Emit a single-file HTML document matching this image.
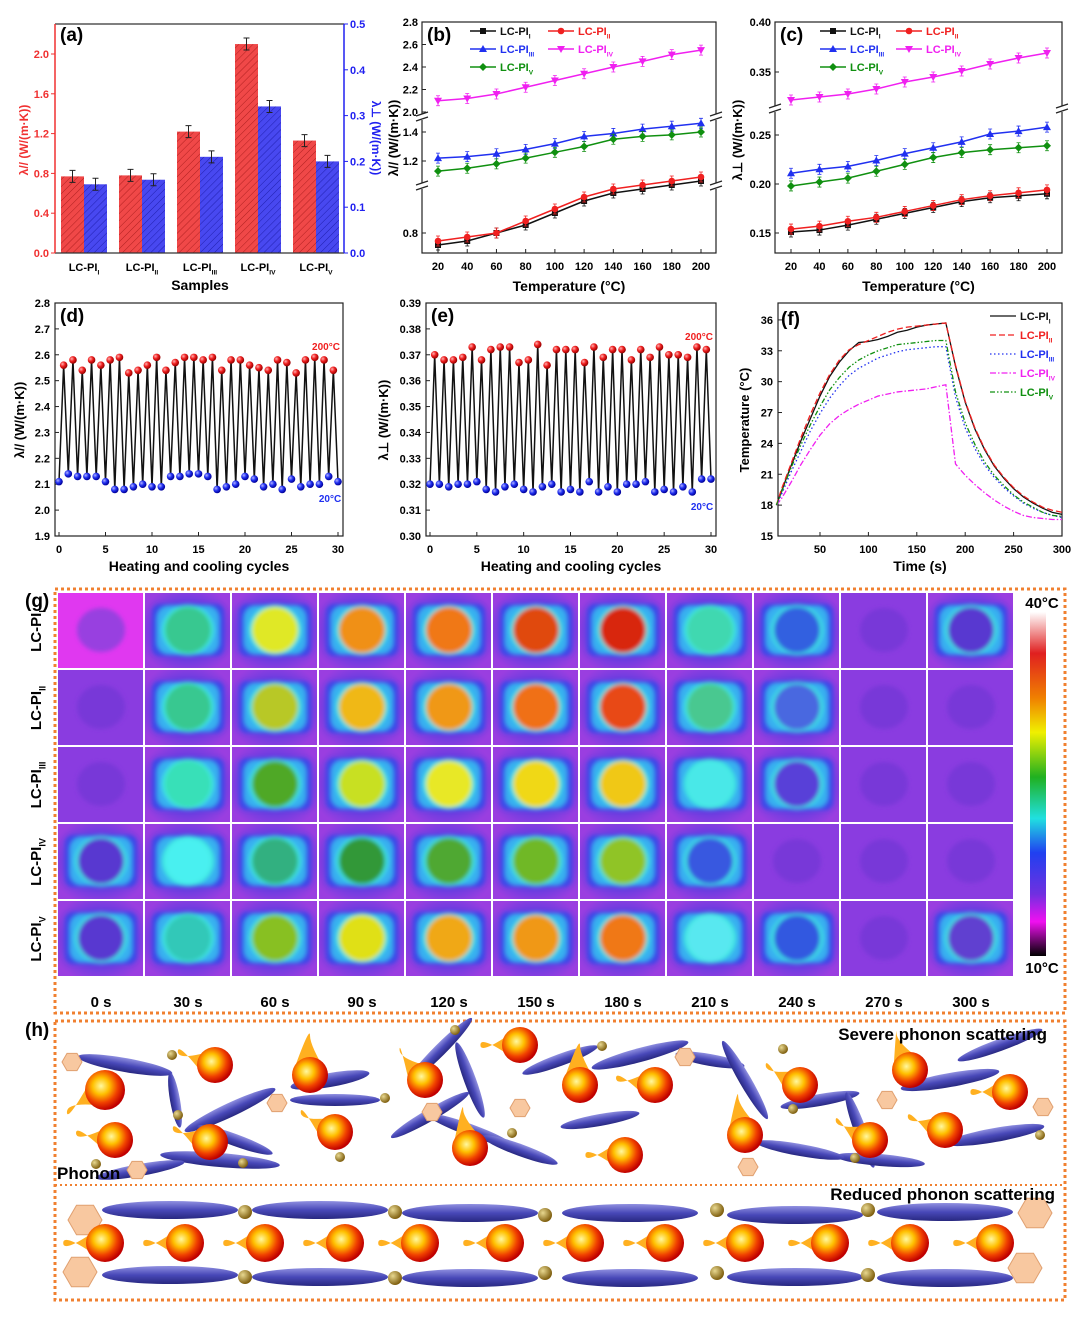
<!DOCTYPE html>
<html><head><meta charset="utf-8">
<style>
html,body{margin:0;padding:0;background:#fff;}
svg{display:block;font-family:"Liberation Sans",Arial,sans-serif;font-weight:bold;}
</style></head>
<body>
<svg id="fig" width="1080" height="1323" viewBox="0 0 1080 1323" xmlns="http://www.w3.org/2000/svg">
<defs>
<filter id="soft" x="-20%" y="-20%" width="140%" height="140%"><feGaussianBlur stdDeviation="2.2"/></filter>
<clipPath id="dummy"><rect width="1" height="1"/></clipPath>
<pattern id="hatchR" patternUnits="userSpaceOnUse" width="5" height="5" patternTransform="rotate(45)"><rect width="5" height="5" fill="#f04848"/><line x1="0" y1="0" x2="0" y2="5" stroke="#b02020" stroke-width="1"/></pattern>
<pattern id="hatchB" patternUnits="userSpaceOnUse" width="5" height="5" patternTransform="rotate(45)"><rect width="5" height="5" fill="#4848f0"/><line x1="0" y1="0" x2="0" y2="5" stroke="#2020b0" stroke-width="1"/></pattern>
<radialGradient id="ballR" cx="35%" cy="35%" r="65%"><stop offset="0" stop-color="#ffb0b0"/><stop offset="0.5" stop-color="#f02020"/><stop offset="1" stop-color="#900"/></radialGradient>
<radialGradient id="ballB" cx="35%" cy="35%" r="65%"><stop offset="0" stop-color="#b0b0ff"/><stop offset="0.5" stop-color="#2030f0"/><stop offset="1" stop-color="#009"/></radialGradient>
<radialGradient id="fire" cx="40%" cy="40%" r="60%"><stop offset="0" stop-color="#fff8a0"/><stop offset="0.35" stop-color="#ffc000"/><stop offset="0.7" stop-color="#f04000"/><stop offset="1" stop-color="#c00000"/></radialGradient>
<radialGradient id="gold" cx="35%" cy="35%" r="65%"><stop offset="0" stop-color="#e8d890"/><stop offset="1" stop-color="#806010"/></radialGradient>
<radialGradient id="cellbg" cx="50%" cy="50%" r="60%"><stop offset="0.5" stop-color="#5a3ce0"/><stop offset="1" stop-color="#9a3ee0"/></radialGradient>
<linearGradient id="ell" x1="0" y1="0" x2="0" y2="1"><stop offset="0" stop-color="#9090e0"/><stop offset="0.5" stop-color="#4848b8"/><stop offset="1" stop-color="#282880"/></linearGradient>
<linearGradient id="cbar" x1="0" y1="0" x2="0" y2="1">
<stop offset="0" stop-color="#ffffff"/><stop offset="0.12" stop-color="#e02020"/><stop offset="0.25" stop-color="#f08000"/><stop offset="0.35" stop-color="#f0f000"/><stop offset="0.48" stop-color="#20b020"/><stop offset="0.6" stop-color="#20e0e0"/><stop offset="0.7" stop-color="#2040f0"/><stop offset="0.82" stop-color="#7030e0"/><stop offset="0.9" stop-color="#f010f0"/><stop offset="1" stop-color="#000"/></linearGradient>
</defs>
</svg>
<script>
// ---------- data ----------
const barCats=['I','II','III','IV','V'];
const barPar=[0.77,0.78,1.22,2.10,1.13];
const barPerp=[0.15,0.16,0.21,0.32,0.20];
const leftTicks=[0.0,0.4,0.8,1.2,1.6,2.0];
const rightTicks=[0.0,0.1,0.2,0.3,0.4,0.5];

const temps=[20,40,60,80,100,120,140,160,180,200];
const bI=[0.77,0.78,0.80,0.82,0.85,0.88,0.90,0.91,0.92,0.93];
const bII=[0.78,0.79,0.80,0.83,0.86,0.89,0.91,0.92,0.93,0.94];
const bIII=[1.22,1.23,1.25,1.28,1.32,1.37,1.39,1.42,1.44,1.46];
const bIV=[2.10,2.12,2.16,2.22,2.28,2.34,2.40,2.45,2.51,2.55];
const bV=[1.13,1.15,1.18,1.22,1.26,1.30,1.35,1.37,1.38,1.40];
const bTicks=[0.8,1.2,1.4,2.0,2.2,2.4,2.6,2.8];

const cI=[0.151,0.153,0.158,0.164,0.170,0.176,0.182,0.186,0.188,0.190];
const cII=[0.154,0.157,0.162,0.166,0.172,0.178,0.184,0.188,0.191,0.194];
const cIII=[0.211,0.215,0.218,0.224,0.231,0.237,0.243,0.251,0.254,0.258];
const cIV=[0.322,0.325,0.328,0.333,0.340,0.345,0.351,0.358,0.364,0.369];
const cV=[0.198,0.202,0.206,0.213,0.220,0.227,0.232,0.235,0.237,0.239];
const cTicks=[0.15,0.20,0.25,0.35,0.40];

const dHigh=[2.56,2.58,2.54,2.58,2.56,2.58,2.59,2.53,2.54,2.56,2.59,2.54,2.57,2.59,2.59,2.58,2.59,2.54,2.58,2.58,2.56,2.55,2.54,2.58,2.57,2.53,2.58,2.59,2.58,2.54];
const dLow=[2.11,2.14,2.13,2.13,2.13,2.11,2.08,2.08,2.09,2.10,2.09,2.09,2.13,2.13,2.14,2.14,2.13,2.08,2.09,2.10,2.13,2.12,2.09,2.10,2.08,2.12,2.09,2.10,2.10,2.13,2.11];
const dTicks=[1.9,2.0,2.1,2.2,2.3,2.4,2.5,2.6,2.7,2.8];
const eHigh=[0.370,0.368,0.368,0.369,0.373,0.368,0.372,0.373,0.373,0.367,0.368,0.374,0.366,0.372,0.372,0.372,0.367,0.373,0.369,0.372,0.372,0.368,0.372,0.369,0.373,0.370,0.370,0.369,0.373,0.372];
const eLow=[0.320,0.320,0.319,0.320,0.320,0.321,0.318,0.317,0.319,0.320,0.318,0.317,0.319,0.320,0.317,0.318,0.317,0.321,0.317,0.319,0.317,0.320,0.320,0.321,0.317,0.318,0.317,0.319,0.317,0.322,0.322];
const eTicks=[0.30,0.31,0.32,0.33,0.34,0.35,0.36,0.37,0.38,0.39];
const cycTicks=[0,5,10,15,20,25,30];

const fTime=[5,10,20,30,40,50,60,70,80,90,100,110,120,130,140,150,160,170,180,190,200,210,220,230,240,250,260,270,280,290,300];
const fI=[18,19.3,21.8,24.2,26.4,28.6,30.5,31.9,33.0,33.8,33.9,34.1,34.4,34.8,35.0,35.3,35.5,35.6,35.7,31.5,28.0,25.4,23.4,21.8,20.6,19.6,18.8,18.2,17.7,17.3,17.1];
const fII=[18,19.5,22.0,24.5,26.8,28.9,30.7,32.1,33.1,33.6,34.0,34.4,34.8,35.1,35.3,35.4,35.5,35.6,35.7,31.6,28.1,25.5,23.5,21.9,20.7,19.7,18.9,18.3,17.8,17.5,17.3];
const fIII=[18,19.0,21.2,23.2,25.2,26.9,28.4,29.6,30.6,31.3,31.8,32.3,32.6,32.9,33.1,33.2,33.3,33.4,33.4,28.5,25.5,23.5,21.9,20.7,19.7,18.9,18.2,17.7,17.3,17.0,16.8];
const fIV=[18,18.6,20.2,21.9,23.4,24.8,25.9,26.7,27.3,27.8,28.2,28.6,28.8,29.0,29.1,29.2,29.3,29.5,29.7,22.0,20.9,20.0,19.2,18.5,17.9,17.4,17.0,16.8,16.7,16.6,16.6];
const fV=[18,19.2,21.6,23.8,25.8,27.6,29.2,30.4,31.4,32.1,32.6,33.0,33.3,33.6,33.7,33.8,33.9,34.0,34.0,29.0,26.0,23.9,22.2,20.9,19.9,19.0,18.3,17.8,17.3,17.0,16.9];
const fYTicks=[15,18,21,24,27,30,33,36];
const fXTicks=[50,100,150,200,250,300];

const gRows=['I','II','III','IV','V'];
const gTimes=['0 s','30 s','60 s','90 s','120 s','150 s','180 s','210 s','240 s','270 s','300 s'];
const gCenter=[
['-','#38c890','#e0e828','#f09018','#f07818','#e04810','#d82810','#40d8b0','#3060e0','-','#5838d0'],
['-','#38c890','#b8c828','#f0b818','#f09818','#f07018','#e84818','#48c890','#4868e0','-','-'],
['-','#38e0b8','#50a828','#c8e020','#e8e828','#f0d818','#f0c818','#48e8e8','#5840d8','-','-'],
['#5838d0','#48f0f0','#30b080','#309838','#50a830','#70b828','#90c428','#3858e0','-','-','-'],
['#5838d0','#30c8b8','#88c020','#e0e018','#f0a818','#f09818','#f07818','#58e8f0','#3058e0','-','#6040d0']];

// ---------- helpers ----------
const NS='http://www.w3.org/2000/svg';
const svg=document.getElementById('fig');
function mk(tag,attrs,parent){const e=document.createElementNS(NS,tag);for(const k in attrs)e.setAttribute(k,attrs[k]);(parent||svg).appendChild(e);return e;}
function grp(name){const g=mk('g',{});return g;}
function txt(p,x,y,s,size,anchor,fill){const t=mk('text',{x:x,y:y,'font-size':size,'text-anchor':anchor||'middle',fill:fill||'#000'},p);t.textContent=s;return t;}
function lcpi(p,x,y,sub,size,anchor,fill){const t=mk('text',{x:x,y:y,'font-size':size,'text-anchor':anchor||'middle',fill:fill||'#000'},p);t.appendChild(document.createTextNode('LC-PI'));const s=mk('tspan',{'font-size':size*0.6,dy:size*0.3},t);s.textContent=sub;return t;}
function sm(v){return v.toFixed(1);}

// ---------- panel a ----------
(function(){
const g=grp('panel-a-bar-chart');
const L=55,R=344,T=24,B=253;
const yl=v=>B-v*99.5, yr=v=>B-v*458;
barCats.forEach((c,i)=>{
  const x0=61+i*58;
  const r=mk('rect',{x:x0,y:yl(barPar[i]),width:23,height:B-yl(barPar[i]),fill:'url(#hatchR)'},g);
  
  
  const b=mk('rect',{x:x0+23,y:yr(barPerp[i]),width:23,height:B-yr(barPerp[i]),fill:'url(#hatchB)'},g);
  
  
  [[x0+11.5,yl(barPar[i])],[x0+34.5,yr(barPerp[i])]].forEach(([x,y])=>{
    mk('path',{d:`M${x},${y-6}V${y+6}M${x-3},${y-6}h6M${x-3},${y+6}h6`,stroke:'#222','stroke-width':1,fill:'none'},g);});
  lcpi(g,x0+23,271,c,11,'middle');
});
mk('path',{d:`M${L},${T}H${R}M${L},${B}H${R}`,stroke:'#333','stroke-width':1.2,fill:'none'},g);
mk('line',{x1:L,y1:T,x2:L,y2:B,stroke:'#f03030','stroke-width':1.5},g);
mk('line',{x1:R,y1:T,x2:R,y2:B,stroke:'#2020f0','stroke-width':1.5},g);
leftTicks.forEach(v=>{mk('line',{x1:L,y1:yl(v),x2:L-4,y2:yl(v),stroke:'#f03030'},g);txt(g,L-6,yl(v)+4,sm(v),11,'end','#f03030');});
rightTicks.forEach(v=>{mk('line',{x1:R,y1:yr(v),x2:R+4,y2:yr(v),stroke:'#2020f0'},g);txt(g,R+6,yr(v)+4,sm(v),11,'start','#2020f0');});
const yt=txt(g,0,0,'λ// (W/(m·K))',12,'middle','#f03030');yt.setAttribute('transform','translate(28,140) rotate(-90)');

const yt2=txt(g,0,0,'λ⊥ (W/(m·K))',12,'middle','#2020f0');yt2.setAttribute('transform','translate(372,138) rotate(90)');

txt(g,200,290,'Samples',14);
txt(g,60,41,'(a)',19,'start');
})();

// ---------- generic line panel ----------
const series5=[['I','#111','sq'],['II','#f02020','ci'],['III','#2030f0','tu'],['IV','#f020f0','td'],['V','#109010','di']];
function marker(p,x,y,type,col){
  if(type==='sq')return mk('rect',{x:x-3,y:y-3,width:6,height:6,fill:col},p);
  if(type==='ci')return mk('circle',{cx:x,cy:y,r:3.3,fill:col},p);
  if(type==='tu')return mk('path',{d:`M${x},${y-4}L${x+4},${y+3}L${x-4},${y+3}Z`,fill:col},p);
  if(type==='td')return mk('path',{d:`M${x},${y+4}L${x+4},${y-3}L${x-4},${y-3}Z`,fill:col},p);
  return mk('path',{d:`M${x},${y-4}L${x+4},${y}L${x},${y+4}L${x-4},${y}Z`,fill:col},p);
}
function linePanel(name,L,R,T,B,xs,yFn,sets,ticks,tickFmt,label,legX,legW){
  const g=grp(name);
  const xf=t=>L+16+(t-20)*(R-L-31)/180;
  mk('rect',{x:L,y:T,width:R-L,height:B-T,fill:'none',stroke:'#222','stroke-width':1.2},g);
  ticks.forEach(v=>{const y=yFn(v);mk('line',{x1:L,y1:y,x2:L+4,y2:y,stroke:'#222'},g);txt(g,L-4,y+4,tickFmt(v),11,'end');});
  xs.forEach(t=>{mk('line',{x1:xf(t),y1:B,x2:xf(t),y2:B-4,stroke:'#222'},g);txt(g,xf(t),B+17,String(t),11);});
  sets.forEach((arr,k)=>{
    const [sub,col,m]=series5[k];
    const s=grp('series-'+name+'-'+sub);g.appendChild(s);
    mk('polyline',{points:arr.map((v,i)=>xf(xs[i])+','+yFn(v)).join(' '),fill:'none',stroke:col,'stroke-width':1.5},s);
    arr.forEach((v,i)=>{const x=xf(xs[i]),y=yFn(v);mk('path',{d:`M${x},${y-5}V${y+5}M${x-2},${y-5}h4M${x-2},${y+5}h4`,stroke:col,'stroke-width':0.8,fill:'none'},s);marker(s,x,y,m,col);});
  });
  const lg=grp('legend-'+name);g.appendChild(lg);
  const pos=[[0,0],[1,0],[0,1],[1,1],[0,2]];
  series5.forEach(([sub,col,m],k)=>{const x=legX+pos[k][0]*legW,y=T+9+pos[k][1]*18;
    mk('line',{x1:x,y1:y,x2:x+26,y2:y,stroke:col,'stroke-width':1.5},lg);marker(lg,x+13,y,m,col);lcpi(lg,x+30,y+4,sub,11,'start',col);});
  txt(g,(L+R)/2,B+38,'Temperature (°C)',14);
  txt(g,L+5,T+19,label,19,'start');
  return g;
}
(function(){
const yb=v=> v<1.0 ? 233-(v-0.8)*400 : (v<1.7 ? 161-(v-1.2)*145 : 112-(v-2.0)*112.5);
const g=linePanel('panel-b',422,716,22,253,temps,yb,[bI,bII,bIII,bIV,bV],bTicks,v=>v.toFixed(1),'(b)',470,78);
[[186,0],[117,0]].forEach(([y])=>{[422,716].forEach(x=>{mk('rect',{x:x-6,y:y-3,width:12,height:6,fill:'#fff'},g);mk('path',{d:`M${x-6},${y-1}l12,-4M${x-6},${y+4}l12,-4`,stroke:'#222','stroke-width':1.2},g);});});
const t=txt(g,0,0,'λ// (W/(m·K))',13);t.setAttribute('transform','translate(398,138) rotate(-90)');
})();
(function(){
const yc=v=> v<0.3 ? 233-(v-0.15)*980 : 72-(v-0.35)*1000;
const g=linePanel('panel-c',775,1062,22,253,temps,yc,[cI,cII,cIII,cIV,cV],cTicks,v=>v.toFixed(2),'(c)',820,76);
[1062,775].forEach(x=>{mk('rect',{x:x-6,y:106,width:12,height:6,fill:'#fff'},g);mk('path',{d:`M${x-6},${108}l12,-4M${x-6},${113}l12,-4`,stroke:'#222','stroke-width':1.2},g);});
const t=txt(g,0,0,'λ⊥ (W/(m·K))',13);t.setAttribute('transform','translate(742,140) rotate(-90)');
})();

// ---------- cycle panels ----------
function cyclePanel(name,L,R,T,B,hi,lo,ticks,vmin,vmax,fmt,label,hl,ll){
  const g=grp(name);
  const y=v=>B-(v-vmin)*(B-T)/(vmax-vmin);
  const x=c=>L+4+c*(R-L-9)/30;
  mk('rect',{x:L,y:T,width:R-L,height:B-T,fill:'none',stroke:'#222','stroke-width':1.2},g);
  ticks.forEach(v=>{mk('line',{x1:L,y1:y(v),x2:L+4,y2:y(v),stroke:'#222'},g);txt(g,L-5,y(v)+4,fmt(v),11,'end');});
  cycTicks.forEach(c=>{mk('line',{x1:x(c),y1:B,x2:x(c),y2:B-4,stroke:'#222'},g);txt(g,x(c),B+17,String(c),11);});
  const pts=[];lo.forEach((v,i)=>{pts.push([i,v]);if(i<hi.length)pts.push([i+0.5,hi[i]]);});
  mk('polyline',{points:pts.map(p=>x(p[0])+','+y(p[1])).join(' '),fill:'none',stroke:'#111','stroke-width':1.5},g);
  hi.forEach((v,i)=>{const c=mk('circle',{cx:x(i+0.5),cy:y(v),r:3.8,fill:'url(#ballR)'},g);});
  lo.forEach((v,i)=>{const c=mk('circle',{cx:x(i),cy:y(v),r:3.8,fill:'url(#ballB)'},g);});
  txt(g,(L+R)/2,B+35,'Heating and cooling cycles',14);
  txt(g,L+5,T+19,label,19,'start');
  txt(g,hl[0],hl[1],'200°C',10,'middle','#f02020');
  txt(g,ll[0],ll[1],'20°C',10,'middle','#2030f0');
  return g;
}
(function(){
const g=cyclePanel('panel-d',55,343,303,536,dHigh,dLow,dTicks,1.9,2.8,v=>v.toFixed(1),'(d)',[326,350],[330,502]);
const t=txt(g,0,0,'λ// (W/(m·K))',13);t.setAttribute('transform','translate(24,420) rotate(-90)');
const g2=cyclePanel('panel-e',426,716,303,536,eHigh,eLow,eTicks,0.30,0.39,v=>v.toFixed(2),'(e)',[699,340],[702,510]);
const t2=txt(g2,0,0,'λ⊥ (W/(m·K))',13);t2.setAttribute('transform','translate(388,420) rotate(-90)');
})();

// ---------- panel f ----------
(function(){
const g=grp('panel-f');
const L=778,R=1062,T=303,B=536;
const x=t=>820+(t-50)*0.968, y=v=>536-(v-15)*10.29;
mk('rect',{x:L,y:T,width:R-L,height:B-T,fill:'none',stroke:'#222','stroke-width':1.2},g);
fYTicks.forEach(v=>{mk('line',{x1:L,y1:y(v),x2:L+4,y2:y(v),stroke:'#222'},g);txt(g,L-5,y(v)+4,String(v),11,'end');});
fXTicks.forEach(v=>{mk('line',{x1:x(v),y1:B,x2:x(v),y2:B-4,stroke:'#222'},g);txt(g,x(v),B+17,String(v),11);});
const st=[[fI,'#111',''],[fII,'#f02020','6,3'],[fIII,'#2030f0','1.5,2.5'],[fIV,'#f020f0','6,2,1.5,2'],[fV,'#109010','5,2,1.5,2,1.5,2']];
st.forEach(([arr,col,da],k)=>{
  const p=mk('polyline',{points:arr.map((v,i)=>x(fTime[i])+','+y(v)).join(' '),fill:'none',stroke:col,'stroke-width':1.3,'stroke-dasharray':da},g);
  
  
  const ly=316+k*19;
  mk('line',{x1:990,y1:ly,x2:1016,y2:ly,stroke:col,'stroke-width':1.3,'stroke-dasharray':da},g);
  lcpi(g,1020,ly+4,series5[k][0],11,'start',col);
});
txt(g,(L+R)/2,B+35,'Time (s)',14);
const t=txt(g,0,0,'Temperature (°C)',13);t.setAttribute('transform','translate(749,420) rotate(-90)');
txt(g,L+3,T+22,'(f)',19,'start');
})();

// ---------- panel g ----------
(function(){
const g=grp('panel-g-thermal-images');
mk('rect',{x:55,y:589,width:1010,height:424,fill:'none',stroke:'#f08030','stroke-width':3,'stroke-dasharray':'3,3'},g);
txt(g,25,607,'(g)',19,'start');
gRows.forEach((r,i)=>{
  const y0=593+i*77;
  const lb=lcpi(g,0,0,r,15,'middle');lb.setAttribute('transform',`translate(41,${y0+38}) rotate(-90)`);
  gTimes.forEach((tm,j)=>{
    const x0=58+j*87;
    const cell=grp('thermal-cell-'+r+'-'+j);g.appendChild(cell);
    const c=gCenter[i][j];const cx=x0+43,cy=y0+37;
    const clip=mk('clipPath',{id:'cc'+i+'_'+j},cell);mk('rect',{x:x0,y:y0,width:85,height:75},clip);
    const inner=mk('g',{'clip-path':`url(#cc${i}_${j})`},cell);
    const bg=(i===0&&j===0)?'#e038f0':(c==='-'?'#8a3ce0':'url(#cellbg)');
    mk('rect',{x:x0,y:y0,width:85,height:75,fill:bg},inner);
    const blob=mk('g',{filter:'url(#soft)'},inner);
    if(c==='-'){mk('ellipse',{cx:cx,cy:cy,rx:24,ry:22,fill:(i===0&&j===0)?'#9840e0':'#7838d8'},blob);}
    else{
      mk('rect',{x:cx-36,y:cy-26,width:72,height:52,rx:8,fill:'#3a48e8'},blob);
      mk('rect',{x:cx-31,y:cy-24,width:62,height:48,rx:12,fill:'#38b0f0'},blob);
      mk('ellipse',{cx:cx,cy:cy,rx:26,ry:25,fill:'#40e8e0'},blob);
      mk('ellipse',{cx:cx,cy:cy,rx:23,ry:23,fill:c},blob);
    }
  });
});
gTimes.forEach((tm,j)=>txt(g,101+j*87,1007,tm,15));
const cb=mk('rect',{x:1030,y:612,width:16,height:344,fill:'url(#cbar)'},g);

txt(g,1042,608,'40°C',15);txt(g,1042,973,'10°C',15);
})();

// ---------- panel h ----------
(function(){
const g=grp('panel-h-schematic');
mk('rect',{x:55,y:1021,width:1010,height:279,fill:'none',stroke:'#f08030','stroke-width':3,'stroke-dasharray':'3,3'},g);
mk('line',{x1:55,y1:1185,x2:1065,y2:1185,stroke:'#f08030','stroke-width':2,'stroke-dasharray':'2,3'},g);
txt(g,25,1036,'(h)',19,'start');
const ell=(cx,cy,rx,ry,rot)=>mk('ellipse',{cx:cx,cy:cy,rx:rx,ry:ry,fill:'url(#ell)',transform:`rotate(${rot} ${cx} ${cy})`},g);
const gb=(cx,cy,r)=>mk('circle',{cx:cx,cy:cy,r:r,fill:'url(#gold)'},g);
const hex=(cx,cy,r)=>{let d='';for(let k=0;k<6;k++){const a=Math.PI/3*k;d+=(k?'L':'M')+(cx+r*Math.cos(a))+','+(cy+r*Math.sin(a));}mk('path',{d:d+'Z',fill:'#f8c8a0',stroke:'#e0a070'},g);};
const fire=(cx,cy,r,ang)=>{const a=ang*Math.PI/180;const tx=cx+Math.cos(a)*r*2.2,ty=cy+Math.sin(a)*r*2.2;
  mk('path',{d:`M${cx+Math.sin(a)*r},${cy-Math.cos(a)*r}Q${tx},${ty-r*0.6} ${tx},${ty}Q${tx},${ty+r*0.6} ${cx-Math.sin(a)*r},${cy+Math.cos(a)*r}Z`,fill:'#ffb020'},g);
  mk('circle',{cx:cx,cy:cy,r:r,fill:'url(#fire)'},g);};
[[125,1065,48,7,10],[175,1100,28,5,80],[230,1110,50,7,-25],[235,1140,40,6,20],[220,1160,60,7,5],[330,1080,40,7,-10],[335,1100,45,6,0],[440,1050,45,6,-45],[470,1080,40,6,70],[430,1115,45,6,-30],[470,1130,45,6,20],[560,1060,40,6,-20],[640,1055,50,7,-15],[710,1060,35,6,10],[745,1080,45,6,60],[820,1100,40,6,-10],[860,1130,40,6,70],[950,1080,50,7,-10],[1000,1045,45,6,-20],[995,1135,50,7,-10],[880,1160,45,6,5],[800,1150,45,6,10],[600,1120,40,6,-10],[520,1150,40,6,20],[140,1170,45,6,-10]].forEach(e=>ell(...e));
[[172,1055],[178,1115],[243,1163],[385,1098],[455,1030],[512,1133],[602,1046],[783,1049],[793,1109],[855,1158],[1040,1135],[96,1164],[340,1157]].forEach(p=>gb(p[0],p[1],5));
[[72,1062],[137,1170],[277,1103],[432,1112],[520,1108],[685,1057],[748,1167],[887,1100],[1043,1107]].forEach(p=>hex(p[0],p[1],10));
[[105,1090,20,150],[215,1065,18,200],[310,1075,18,270],[425,1080,18,230],[520,1045,18,180],[580,1085,18,270],[655,1085,18,190],[470,1148,18,260],[335,1132,18,210],[210,1142,18,200],[115,1140,18,190],[625,1155,18,180],[745,1135,18,260],[800,1085,18,210],[910,1070,18,250],[870,1140,18,210],[945,1130,18,200],[1010,1092,18,180]].forEach(f=>fire(...f));
[[170,1210],[320,1210],[470,1213],[630,1213],[795,1215],[945,1212],[170,1275],[320,1277],[470,1278],[630,1278],[795,1277],[945,1278]].forEach(p=>ell(p[0],p[1],68,9,0));
[[245,1212],[395,1212],[545,1215],[717,1210],[868,1210],[245,1277],[395,1278],[545,1273],[717,1273],[868,1275]].forEach(p=>gb(p[0],p[1],7));
hex(85,1220,17);hex(80,1272,17);hex(1035,1213,17);hex(1025,1268,17);
[105,185,265,345,420,505,585,665,745,830,910,995].forEach(xx=>fire(xx,1243,19,180));
txt(g,1047,1040,'Severe phonon scattering',17,'end');
txt(g,1055,1200,'Reduced phonon scattering',17,'end');
txt(g,57,1179,'Phonon',17,'start');
})();
</script>
</body></html>
